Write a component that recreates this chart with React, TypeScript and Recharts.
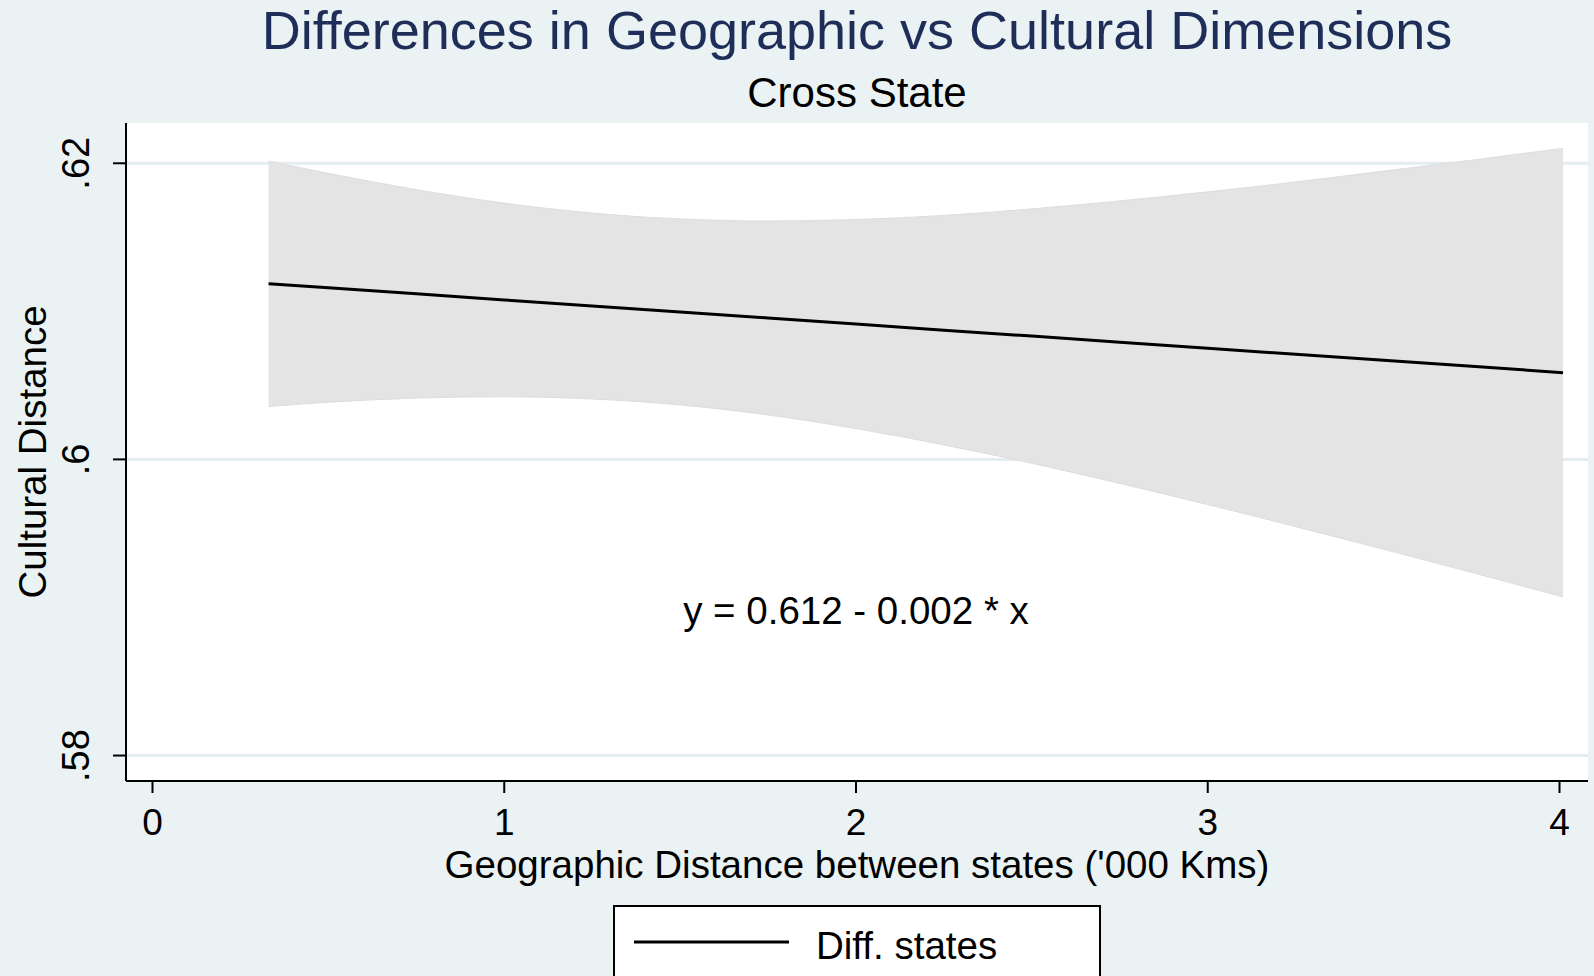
import { ComposedChart, Area, Line, XAxis, YAxis, CartesianGrid, ReferenceDot } from 'recharts'

// values
const distance = [0.33, 0.5, 0.75, 1.0, 1.25, 1.5, 1.75, 2.0, 2.25, 2.5, 2.75, 3.0, 3.25, 3.5, 3.75, 4.01]
const fitted = [0.61186, 0.61159, 0.61118, 0.61077, 0.61036, 0.60996, 0.60955, 0.60914, 0.60873, 0.60833, 0.60792, 0.60751, 0.6071, 0.6067, 0.60629, 0.60586]
const upper = [0.62015, 0.61932, 0.61822, 0.61731, 0.61664, 0.61624, 0.6161, 0.6162, 0.61648, 0.61692, 0.61746, 0.61807, 0.61874, 0.61947, 0.62021, 0.62101]
const lower = [0.60357, 0.60386, 0.60414, 0.60423, 0.60408, 0.60368, 0.603, 0.60208, 0.60098, 0.59974, 0.59838, 0.59695, 0.59546, 0.59393, 0.59237, 0.59071]

const xTicks = [0, 1, 2, 3, 4]
const yTicks = [0.58, 0.6, 0.62]
const yTickLabels = ['.58', '.6', '.62']

const equation = 'y = 0.612 - 0.002 * x'
const eqX = 2
const eqY = 0.5898

const data = distance.map((x, i) => ({ x, fit: fitted[i], band: [lower[i], upper[i]] }))

const FONT = '"Liberation Sans", Arial, sans-serif'
const BG = '#eaf2f3'

function YTick({ y, payload }: any) {
  const idx = yTicks.indexOf(payload.value)
  return (
    <text transform={`translate(89,${y}) rotate(-90)`} textAnchor="middle" fontSize={38} fontFamily={FONT} fill="#000">
      {idx >= 0 ? yTickLabels[idx] : payload.value}
    </text>
  )
}

function XTick({ x, payload }: any) {
  return (
    <text x={x} y={835} textAnchor="middle" fontSize={37} fontFamily={FONT} fill="#000">
      {payload.value}
    </text>
  )
}

export default function App() {
  return (
    <div style={{ position: 'absolute', left: 0, top: 0, width: 1594, height: 976, background: BG, overflow: 'hidden' }}>
      <ComposedChart width={1594} height={976} data={data} margin={{ top: 123, right: 6, bottom: 0, left: 0 }}>
        <CartesianGrid vertical={false} fill="#ffffff" stroke="#e4edef" strokeWidth={3} horizontalValues={yTicks} />
        <XAxis
          type="number"
          dataKey="x"
          domain={[-0.0753, 4.081]}
          ticks={xTicks}
          height={195}
          allowDataOverflow
          tickSize={12}
          tick={<XTick />}
          axisLine={{ stroke: '#000', strokeWidth: 2 }}
          tickLine={{ stroke: '#000', strokeWidth: 2 }}
        />
        <YAxis
          type="number"
          domain={[0.57828, 0.62272]}
          ticks={yTicks}
          width={126}
          allowDataOverflow
          tickSize={13}
          tick={<YTick />}
          axisLine={{ stroke: '#000', strokeWidth: 2 }}
          tickLine={{ stroke: '#000', strokeWidth: 2 }}
        />
        <Area type="monotone" dataKey="band" fill="#e4e4e4" fillOpacity={1} stroke="#dddddd" strokeWidth={1} isAnimationActive={false} />
        <Line type="linear" dataKey="fit" stroke="#000" strokeWidth={3} dot={false} isAnimationActive={false} />
        <ReferenceDot
          x={eqX}
          y={eqY}
          r={0}
          fill="none"
          stroke="none"
          ifOverflow="visible"
          label={{ value: equation, position: 'center', fontSize: 38.5, fontFamily: FONT, fill: '#000' }}
        />
      </ComposedChart>
      <svg width={1594} height={976} style={{ position: 'absolute', left: 0, top: 0, pointerEvents: 'none' }}>
        <text x={857} y={49} textAnchor="middle" fontSize={54} fontFamily={FONT} fill="#1e2e58">
          Differences in Geographic vs Cultural Dimensions
        </text>
        <text x={857} y={107} textAnchor="middle" fontSize={42} fontFamily={FONT} fill="#000">
          Cross State
        </text>
        <text transform="translate(45.5,452) rotate(-90)" textAnchor="middle" fontSize={38.5} fontFamily={FONT} fill="#000">
          Cultural Distance
        </text>
        <text x={857} y={878} textAnchor="middle" fontSize={38.5} fontFamily={FONT} fill="#000">
          Geographic Distance between states ('000 Kms)
        </text>
        <rect x={614} y={906} width={486} height={100} fill="#fff" stroke="#000" strokeWidth={2} />
        <line x1={634} y1={942} x2={789} y2={942} stroke="#000" strokeWidth={3} />
        <text x={816} y={959} fontSize={38.5} fontFamily={FONT} fill="#000">
          Diff. states
        </text>
      </svg>
    </div>
  )
}
